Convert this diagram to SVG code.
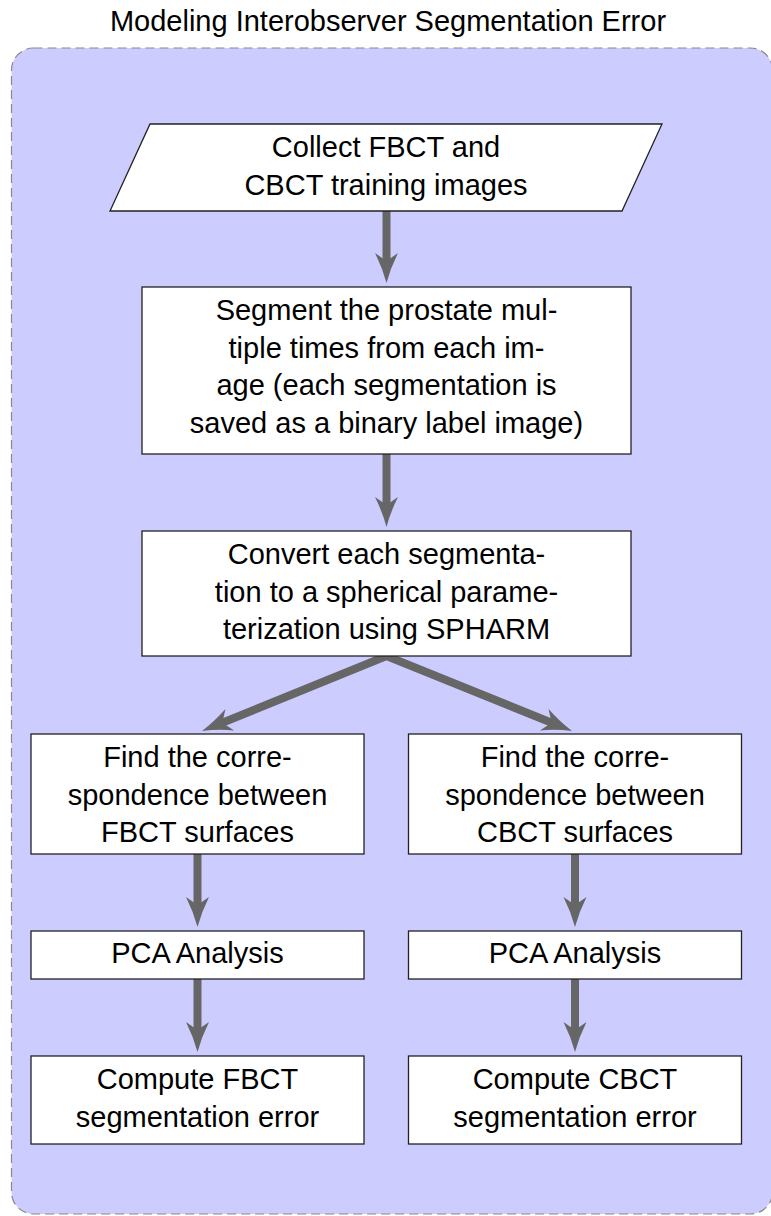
<svg xmlns="http://www.w3.org/2000/svg" width="771" height="1216" viewBox="0 0 771 1216">
  <style>
    .t { font-family: "Liberation Sans", Arial, sans-serif; font-size: 29px; fill: #000; text-anchor: middle; }
    .box { fill: #ffffff; stroke: #222222; stroke-width: 1.3; }
    .arr { stroke: #666666; stroke-width: 8; fill: none; marker-end: url(#head); }
  </style>
  <defs>
    <marker id="head" markerUnits="userSpaceOnUse" viewBox="-12 -13 34 26" refX="0" refY="0" markerWidth="34" markerHeight="26" orient="auto" overflow="visible">
      <path d="M20,0 Q5,-4 -10,-11.5 L-2,0 L-10,11.5 Q5,4 20,0 Z" fill="#666666"/>
    </marker>
  </defs>

  <rect width="771" height="1216" fill="#ffffff"/>

  <g id="title">
    <text class="t" x="388" y="31">Modeling Interobserver Segmentation Error</text>
  </g>

  <g id="container">
    <rect x="11.5" y="48" width="761" height="1166" rx="22" ry="22" fill="#ccccff" stroke="#888888" stroke-width="1.2" stroke-dasharray="9 5"/>
  </g>

  <g id="connectors">
    <line class="arr" x1="386.5" y1="211" x2="386.5" y2="263"/>
    <line class="arr" x1="386.5" y1="454" x2="386.5" y2="507"/>
    <line class="arr" x1="386.5" y1="656" x2="220.5" y2="723.5"/>
    <line class="arr" x1="386.5" y1="656" x2="553.5" y2="723.5"/>
    <line class="arr" x1="197.5" y1="854" x2="197.5" y2="907"/>
    <line class="arr" x1="575" y1="854" x2="575" y2="907"/>
    <line class="arr" x1="197.5" y1="979" x2="197.5" y2="1032"/>
    <line class="arr" x1="575" y1="979" x2="575" y2="1032"/>
  </g>

  <g id="collect">
    <polygon class="box" points="150,124 662,124 622,211 110,211"/>
    <text class="t" x="386" y="157">Collect FBCT and</text>
    <text class="t" x="386" y="194.5">CBCT training images</text>
  </g>

  <g id="segment">
    <rect class="box" x="142" y="287" width="489" height="167"/>
    <text class="t" x="386.5" y="320">Segment the prostate mul-</text>
    <text class="t" x="386.5" y="357.5">tiple times from each im-</text>
    <text class="t" x="386.5" y="395">age (each segmentation is</text>
    <text class="t" x="386.5" y="432.5">saved as a binary label image)</text>
  </g>

  <g id="convert">
    <rect class="box" x="142" y="531" width="489" height="125"/>
    <text class="t" x="386.5" y="564">Convert each segmenta-</text>
    <text class="t" x="386.5" y="601.5">tion to a spherical parame-</text>
    <text class="t" x="386.5" y="639">terization using SPHARM</text>
  </g>

  <g id="corr-fbct">
    <rect class="box" x="31" y="734" width="333" height="120"/>
    <text class="t" x="197.5" y="767">Find the corre-</text>
    <text class="t" x="197.5" y="804.5">spondence between</text>
    <text class="t" x="197.5" y="842">FBCT surfaces</text>
  </g>

  <g id="corr-cbct">
    <rect class="box" x="408.5" y="734" width="333" height="120"/>
    <text class="t" x="575" y="767">Find the corre-</text>
    <text class="t" x="575" y="804.5">spondence between</text>
    <text class="t" x="575" y="842">CBCT surfaces</text>
  </g>

  <g id="pca-fbct">
    <rect class="box" x="31" y="931" width="333" height="48"/>
    <text class="t" x="197.5" y="963">PCA Analysis</text>
  </g>

  <g id="pca-cbct">
    <rect class="box" x="408.5" y="931" width="333" height="48"/>
    <text class="t" x="575" y="963">PCA Analysis</text>
  </g>

  <g id="err-fbct">
    <rect class="box" x="31" y="1056" width="333" height="88"/>
    <text class="t" x="197.5" y="1089">Compute FBCT</text>
    <text class="t" x="197.5" y="1126.5">segmentation error</text>
  </g>

  <g id="err-cbct">
    <rect class="box" x="408.5" y="1056" width="333" height="88"/>
    <text class="t" x="575" y="1089">Compute CBCT</text>
    <text class="t" x="575" y="1126.5">segmentation error</text>
  </g>
</svg>
